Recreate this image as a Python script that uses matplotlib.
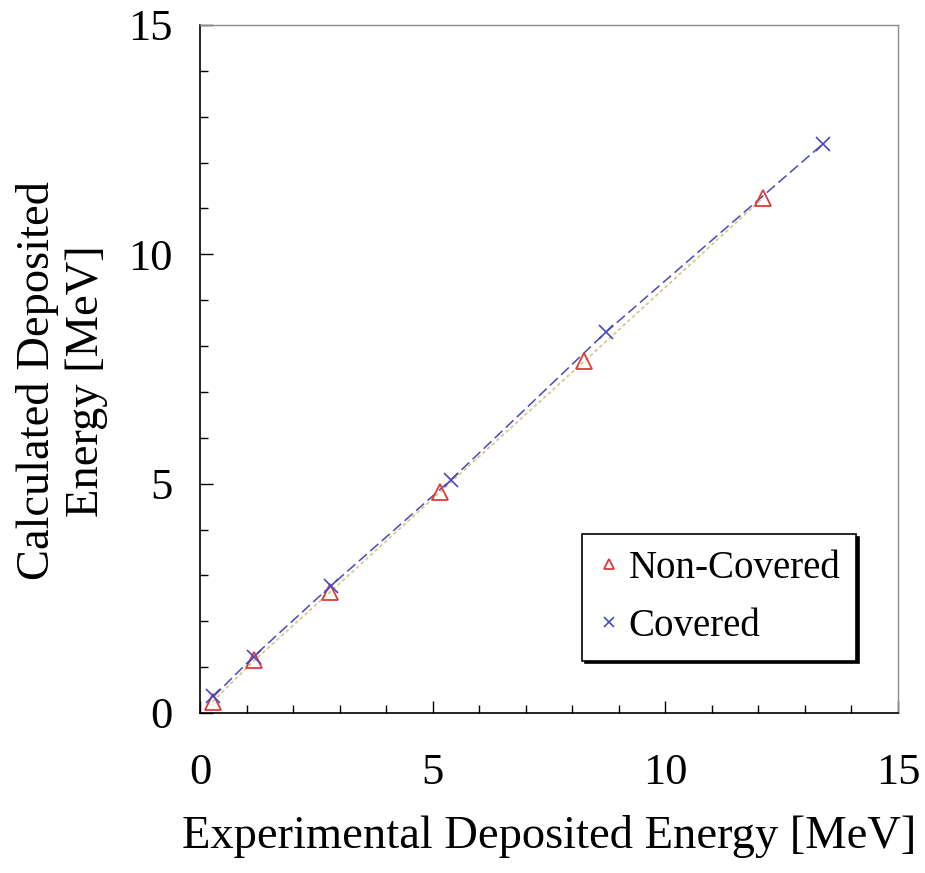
import matplotlib
matplotlib.use("Agg")
import matplotlib.pyplot as plt
from matplotlib.ticker import MultipleLocator

# Deposited energy [MeV]: experiment vs calculation
noncov_exp = [0.27, 1.17, 2.80, 5.16, 8.26, 12.10]
noncov_calc = [0.25, 1.15, 2.64, 4.82, 7.67, 11.23]
cov_exp = [0.29, 1.15, 2.81, 5.39, 8.73, 13.39]
cov_calc = [0.36, 1.23, 2.77, 5.08, 8.31, 12.41]

series_labels = ["Non-Covered", "Covered"]
xlabel = "Experimental Deposited Energy [MeV]"
ylabel = "Calculated Deposited\nEnergy [MeV]"

plt.rcParams["font.family"] = ["Liberation Serif", "DejaVu Serif"]

fig = plt.figure(figsize=(9.25, 8.73), dpi=100)
ax = fig.add_axes([200 / 925, 1 - 713 / 873, 698 / 925, 688 / 873])

# trend lines
ax.plot(noncov_exp, noncov_calc, color="#d9c98f", lw=1.3, ls=(0, (2, 1.5)), zorder=2)
ax.plot(cov_exp, cov_calc, color="#4a4ab8", lw=1.1, ls=(0, (7, 3)), zorder=3)

# data points
ax.plot(noncov_exp, noncov_calc, ls="none", marker="^", ms=11, mfc="none",
        mec="#e03a3a", mew=1.3, label=series_labels[0], zorder=4)
ax.plot(cov_exp, cov_calc, ls="none", marker="x", ms=10, mec="#4848c0",
        mew=1.2, label=series_labels[1], zorder=4)

ax.set_xlim(0, 15)
ax.set_ylim(0, 15)
ax.xaxis.set_major_locator(MultipleLocator(5))
ax.yaxis.set_major_locator(MultipleLocator(5))
ax.xaxis.set_minor_locator(MultipleLocator(1))
ax.yaxis.set_minor_locator(MultipleLocator(1))
ax.tick_params(which="both", direction="in", top=False, right=False,
               width=1.0, color="black")
ax.tick_params(which="major", length=9)
ax.tick_params(which="minor", length=6)
ax.tick_params(axis="x", which="major", labelsize=32, pad=29)
ax.tick_params(axis="y", which="major", labelsize=32, pad=20)

for side in ("left", "bottom"):
    ax.spines[side].set_color("black")
    ax.spines[side].set_linewidth(1.2)
for side in ("top", "right"):
    ax.spines[side].set_color("#8c8c8c")
    ax.spines[side].set_linewidth(1.0)

ax.set_xlabel(xlabel, fontsize=33.5)
ax.xaxis.set_label_coords(0.5, -0.148)
ax.set_ylabel(ylabel, fontsize=33.5, linespacing=1.2)
ax.yaxis.set_label_coords(-0.132, 0.483)

leg = ax.legend(loc="upper left", bbox_to_anchor=((582 - 200) / 698, (713 - 534) / 688),
                fontsize=28, frameon=True, fancybox=False, markerscale=0.65,
                handlelength=0.6, handletextpad=0.2, borderpad=0.4,
                labelspacing=0.55, borderaxespad=0.0,
                shadow={"color": "black", "alpha": 1.0})
leg.get_frame().set_edgecolor("black")
leg.get_frame().set_linewidth(1.2)
leg.get_frame().set_alpha(1.0)

fig.savefig("out.png", dpi=100, facecolor="white")
